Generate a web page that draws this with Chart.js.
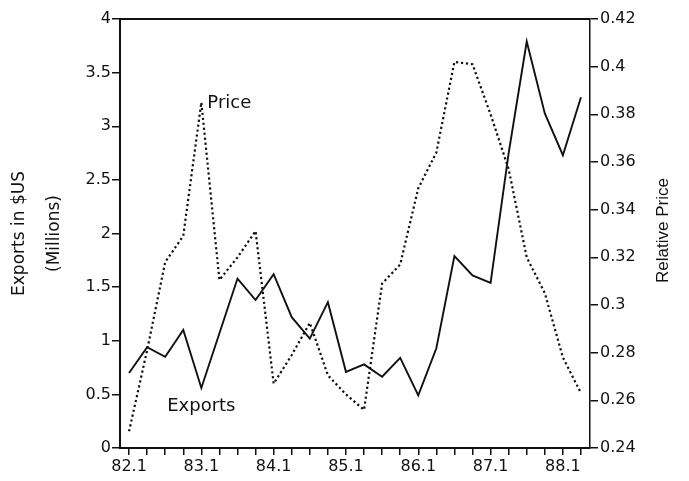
<!DOCTYPE html>
<html>
<head>
<meta charset="utf-8">
<script src="https://cdn.jsdelivr.net/npm/chart.js@4/dist/chart.umd.min.js"></script>
<style>
    html, body { margin: 0; padding: 0; background: #fff; }
    #wrap { width: 689px; height: 481px; }
</style>
</head>
<body>
<div id="wrap"><canvas id="chart" width="689" height="481"></canvas></div>
<script>
// Trimestres 82.1 .. 88.2
const quarters = ['82.1', '82.2', '82.3', '82.4', '83.1', '83.2', '83.3', '83.4',
    '84.1', '84.2', '84.3', '84.4', '85.1', '85.2', '85.3', '85.4',
    '86.1', '86.2', '86.3', '86.4', '87.1', '87.2', '87.3', '87.4',
    '88.1', '88.2'];

// Exportaciones (millones $US), eje izquierdo
const exports = [0.70, 0.94, 0.85, 1.10, 0.56, 1.07, 1.58, 1.38,
    1.62, 1.22, 1.02, 1.36, 0.71, 0.78, 0.665, 0.84,
    0.49, 0.93, 1.79, 1.61, 1.54, 2.75, 3.79, 3.12,
    2.73, 3.27];

// Precio relativo, eje derecho
const price = [0.247, 0.281, 0.318, 0.329, 0.385, 0.3105, 0.320, 0.331,
    0.267, 0.279, 0.2925, 0.2705, 0.2625, 0.256, 0.309, 0.317,
    0.349, 0.364, 0.402, 0.401, 0.380, 0.357, 0.320, 0.305,
    0.278, 0.263];

const leftTicks = { min: 0, max: 4, step: 0.5 };
const rightTicks = { min: 0.24, max: 0.42, step: 0.02 };

const ink = '#111';
const tickFont = { family: "'DejaVu Sans', sans-serif", size: 16 };

// Marco superior, título derecho y etiquetas de las series
const extras = {
    id: 'extras',
    afterDraw(chart) {
        const { ctx, chartArea, scales } = chart;
        ctx.save();
        ctx.strokeStyle = ink;
        ctx.lineWidth = 2;
        ctx.beginPath();
        ctx.moveTo(chartArea.left, chartArea.top);
        ctx.lineTo(chartArea.right, chartArea.top);
        ctx.stroke();

        ctx.fillStyle = ink;
        ctx.font = "17px 'Liberation Sans', Arial, sans-serif";
        ctx.textAlign = 'center';
        ctx.textBaseline = 'middle';
        ctx.translate(663, (chartArea.top + chartArea.bottom) / 2 - 3);
        ctx.rotate(-Math.PI / 2);
        ctx.fillText('Relative Price', 0, 0);
        ctx.restore();

        // etiquetas junto a las líneas
        const i = quarters.indexOf('83.1');
        const x = scales.x.getPixelForValue(i);
        ctx.save();
        ctx.fillStyle = ink;
        ctx.font = "18px 'DejaVu Sans', sans-serif";
        ctx.textBaseline = 'middle';
        ctx.textAlign = 'left';
        ctx.fillText('Price', x + 6, scales.y1.getPixelForValue(price[i]) + 1);
        ctx.textAlign = 'center';
        ctx.fillText('Exports', x, scales.y.getPixelForValue(exports[i]) + 18);
        ctx.restore();
    }
};

new Chart(document.getElementById('chart'), {
    type: 'line',
    data: {
        labels: quarters,
        datasets: [{
            label: 'Exports',
            data: exports,
            yAxisID: 'y',
            borderColor: ink,
            borderWidth: 1.9,
            pointRadius: 0,
            tension: 0
        }, {
            label: 'Price',
            data: price,
            yAxisID: 'y1',
            borderColor: '#111',
            borderWidth: 2.2,
            borderDash: [2.2, 2.8],
            pointRadius: 0,
            tension: 0
        }]
    },
    options: {
        responsive: false,
        animation: false,
        layout: { padding: { top: 19, left: 0, right: 0, bottom: 0 } },
        plugins: {
            legend: { display: false },
            tooltip: { enabled: false }
        },
        scales: {
            x: {
                type: 'category',
                offset: true,
                grid: { display: true, drawOnChartArea: false, color: ink, tickLength: 7, lineWidth: 1.5 },
                border: { display: true, color: ink, width: 2 },
                ticks: {
                    autoSkip: false,
                    maxRotation: 0,
                    padding: 2,
                    color: ink,
                    font: tickFont,
                    callback: function (v, idx) {
                        const q = quarters[idx];
                        return q.endsWith('.1') ? q : '';
                    }
                },
                afterFit: s => { s.height = 33; }
            },
            y: {
                position: 'left',
                min: leftTicks.min,
                max: leftTicks.max,
                grid: { display: true, drawOnChartArea: false, color: ink, tickLength: 8, lineWidth: 1.5 },
                border: { display: true, color: ink, width: 2 },
                ticks: {
                    stepSize: leftTicks.step,
                    padding: 1,
                    color: ink,
                    font: tickFont,
                    callback: v => String(+v.toFixed(2))
                },
                title: {
                    display: true,
                    text: ['Exports in $US', '(Millions)'],
                    color: ink,
                    padding: { top: 2.5, bottom: 0 },
                    font: { family: "'DejaVu Sans', sans-serif", size: 17, lineHeight: '35px' }
                },
                afterFit: s => { s.width = 120; }
            },
            y1: {
                position: 'right',
                min: rightTicks.min,
                max: rightTicks.max,
                grid: { display: true, drawOnChartArea: false, color: ink, tickLength: 8, lineWidth: 1.5 },
                border: { display: true, color: ink, width: 1.5 },
                ticks: {
                    stepSize: rightTicks.step,
                    padding: 2,
                    color: ink,
                    font: tickFont,
                    callback: v => String(+v.toFixed(2))
                },
                afterFit: s => { s.width = 99; }
            }
        }
    },
    plugins: [extras]
});
</script>
</body>
</html>
